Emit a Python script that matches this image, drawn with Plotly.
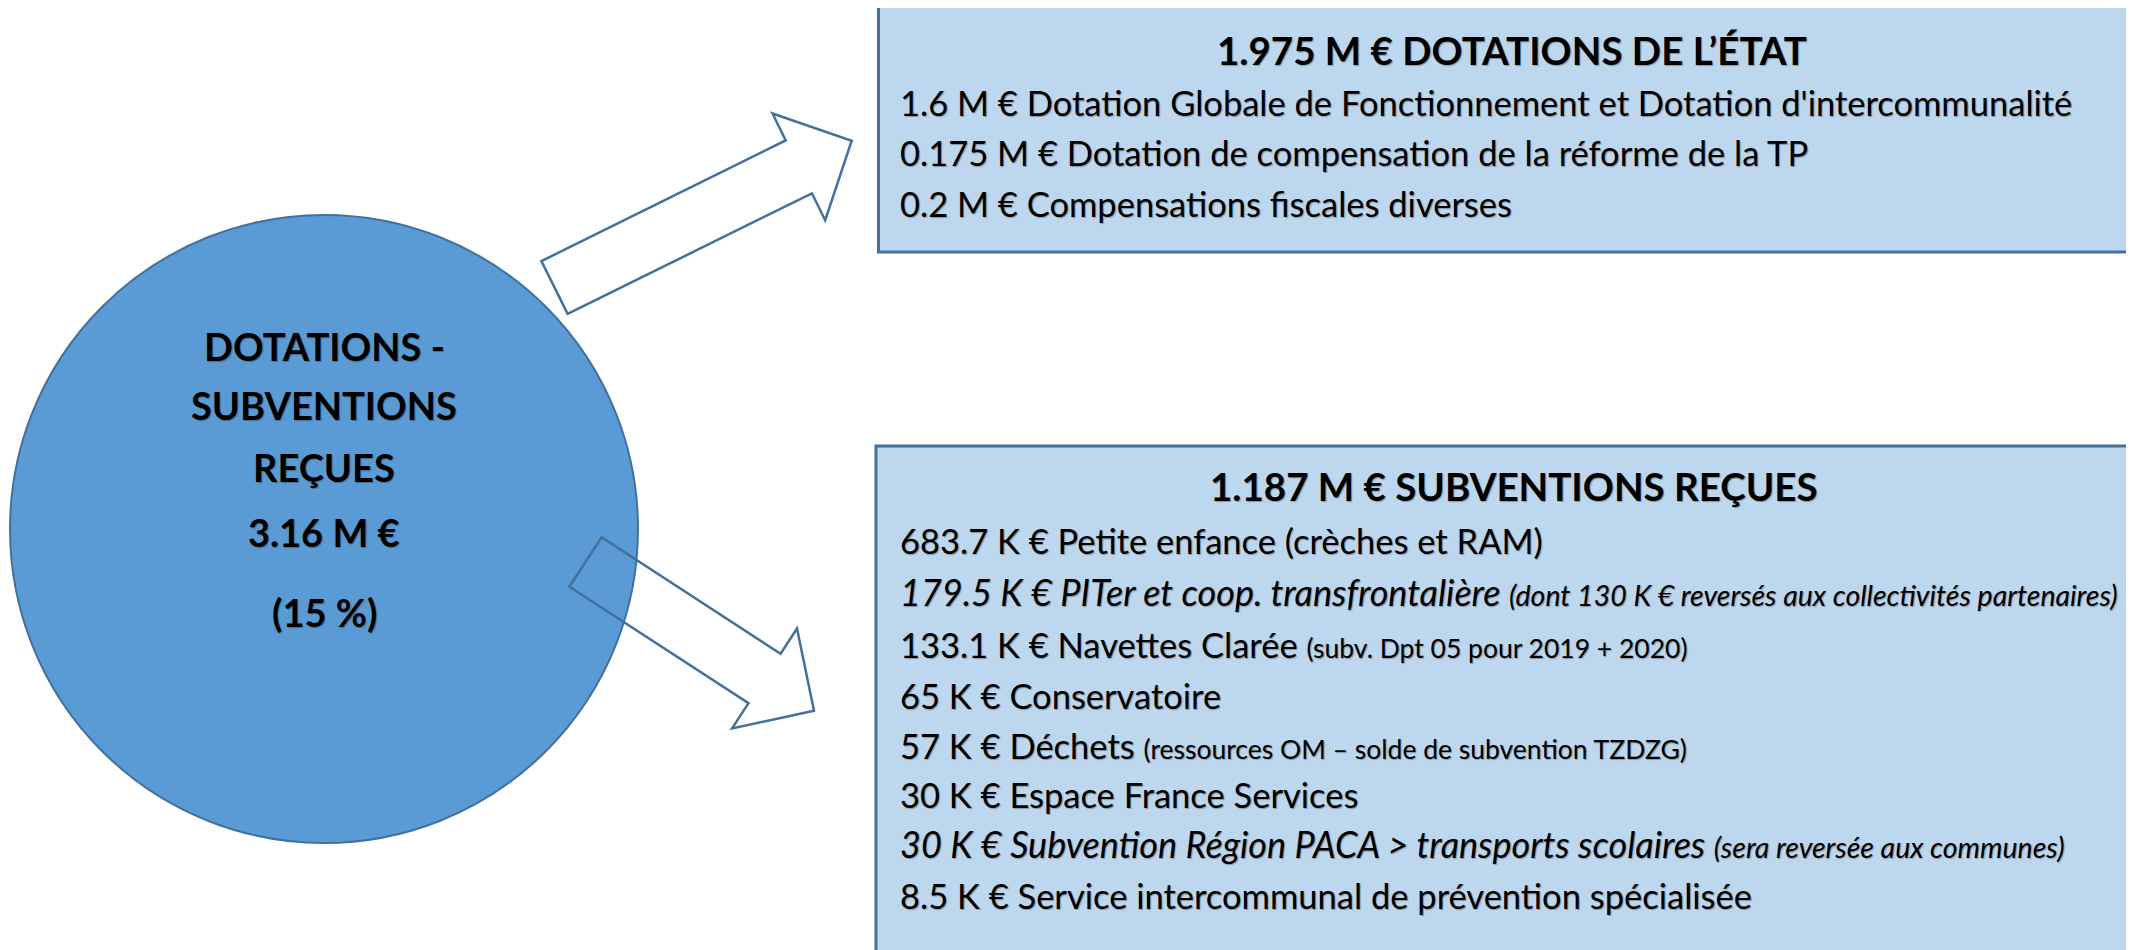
import math
import plotly.graph_objects as go

# ---------------- data ----------------
circle_lines = ["DOTATIONS -", "SUBVENTIONS", "REÇUES", "3.16 M €", "(15 %)"]

dotations_title = "1.975 M € DOTATIONS DE L’ÉTAT"
dotations_amounts = ["1.6 M €", "0.175 M €", "0.2 M €"]
dotations_labels = [
    "Dotation Globale de Fonctionnement et Dotation d'intercommunalité",
    "Dotation de compensation de la réforme de la TP",
    "Compensations fiscales diverses",
]

subventions_title = "1.187 M € SUBVENTIONS REÇUES"
subventions_amounts = ["683.7 K €", "179.5 K €", "133.1 K €", "65 K €", "57 K €",
                       "30 K €", "30 K €", "8.5 K €"]
subventions_labels = [
    "Petite enfance (crèches et RAM)",
    "PITer et coop. transfrontalière",
    "Navettes Clarée",
    "Conservatoire",
    "Déchets",
    "Espace France Services",
    "Subvention Région PACA > transports scolaires",
    "Service intercommunal de prévention spécialisée",
]
subventions_notes = [
    "",
    "(dont 130 K € reversés aux collectivités partenaires)",
    "(subv. Dpt 05 pour 2019 + 2020)",
    "",
    "(ressources OM – solde de subvention TZDZG)",
    "",
    "(sera reversée aux communes)",
    "",
]
subventions_italic = [False, True, False, False, False, False, True, False]

# ---------------- layout / style ----------------
W, H = 2134, 950
OFF = 8  # default page body margin
FONT = "Lato, 'Open Sans', 'DejaVu Sans', sans-serif"
CIRCLE_FILL = "#5B9BD5"
EDGE = "#41719C"
BOX_FILL = "#BDD7EE"
SHADOW = "1px 1px 1px rgba(0,0,0,0.30)"

fig = go.Figure()
fig.update_layout(
    width=W - OFF, height=H - OFF, margin=dict(l=0, r=0, t=0, b=0),
    paper_bgcolor="white", plot_bgcolor="white", showlegend=False,
    xaxis=dict(range=[OFF, W], visible=False, fixedrange=True),
    yaxis=dict(range=[H, OFF], visible=False, fixedrange=True),
)

shapes = []
# boxes
shapes.append(dict(type="rect", xref="x", yref="y", x0=878.5, x1=2132, y0=6, y1=252,
                   fillcolor=BOX_FILL, line=dict(color=EDGE, width=3), layer="below"))
shapes.append(dict(type="rect", xref="x", yref="y", x0=876, x1=2150, y0=446, y1=970,
                   fillcolor=BOX_FILL, line=dict(color=EDGE, width=3), layer="below"))
# circle
shapes.append(dict(type="circle", xref="x", yref="y", x0=10, x1=638, y0=215, y1=843,
                   fillcolor=CIRCLE_FILL, line=dict(color=EDGE, width=2), layer="below"))


def block_arrow(tail, tip, shaft_w=59, head_w=119, head_len=59):
    dx, dy = tip[0] - tail[0], tip[1] - tail[1]
    L = math.hypot(dx, dy)
    ux, uy = dx / L, dy / L
    nx, ny = -uy, ux
    bx, by = tip[0] - ux * head_len, tip[1] - uy * head_len
    pts = [
        (tail[0] + nx * shaft_w / 2, tail[1] + ny * shaft_w / 2),
        (bx + nx * shaft_w / 2, by + ny * shaft_w / 2),
        (bx + nx * head_w / 2, by + ny * head_w / 2),
        tip,
        (bx - nx * head_w / 2, by - ny * head_w / 2),
        (bx - nx * shaft_w / 2, by - ny * shaft_w / 2),
        (tail[0] - nx * shaft_w / 2, tail[1] - ny * shaft_w / 2),
    ]
    return "M " + " L ".join(f"{x:.1f},{y:.1f}" for x, y in pts) + " Z"


shapes.append(dict(type="path", xref="x", yref="y", path=block_arrow((554.5, 287.5), (851.7, 140.7)),
                   line=dict(color=EDGE, width=2.5), fillcolor="rgba(0,0,0,0)", layer="above"))
shapes.append(dict(type="path", xref="x", yref="y", path=block_arrow((585.5, 562), (814, 710.7)),
                   line=dict(color=EDGE, width=2.5), fillcolor="rgba(0,0,0,0)", layer="above"))
fig.update_layout(shapes=shapes)

ann = []
# circle text
circle_y = [346, 405, 467, 532, 612]
for t, y in zip(circle_lines, circle_y):
    ann.append(dict(x=324, y=y, xref="x", yref="y", text=f"<b>{t}</b>", showarrow=False,
                    xanchor="center", yanchor="middle",
                    font=dict(family=FONT, size=38, color="black", shadow=SHADOW)))

BODY = 34.5
NOTE = 26.5
BODY_IT = 36
NOTE_IT = 28.5
TITLE = 38.5
TEXT_X = 898
# top box
ann.append(dict(x=1512, y=50, xref="x", yref="y", text=f"<b>{dotations_title}</b>", showarrow=False,
                xanchor="center", yanchor="middle",
                font=dict(family=FONT, size=TITLE, color="black", shadow=SHADOW)))
top_y = [102, 152, 203]
for a, l, y in zip(dotations_amounts, dotations_labels, top_y):
    ann.append(dict(x=TEXT_X, y=y, xref="x", yref="y", text=f"{a} {l}", showarrow=False,
                    xanchor="left", yanchor="middle",
                    font=dict(family=FONT, size=BODY, color="black", shadow=SHADOW)))

# bottom box
ann.append(dict(x=1514, y=486, xref="x", yref="y", text=f"<b>{subventions_title}</b>", showarrow=False,
                xanchor="center", yanchor="middle",
                font=dict(family=FONT, size=TITLE, color="black", shadow=SHADOW)))
bot_y = [540, 592, 644, 695, 745, 794, 844, 895]
for a, l, n, it, y in zip(subventions_amounts, subventions_labels, subventions_notes,
                          subventions_italic, bot_y):
    txt = f"{a} {l}"
    if n:
        txt += f" <span style='font-size:{NOTE_IT if it else NOTE}px'>{n}</span>"
    if it:
        txt = f"<i>{txt}</i>"
    ann.append(dict(x=TEXT_X, y=y, xref="x", yref="y", text=txt, showarrow=False,
                    xanchor="left", yanchor="middle",
                    font=dict(family=FONT, size=BODY_IT if it else BODY, color="black",
                              shadow=SHADOW)))

fig.update_layout(annotations=ann)
fig.write_html("out.html")
